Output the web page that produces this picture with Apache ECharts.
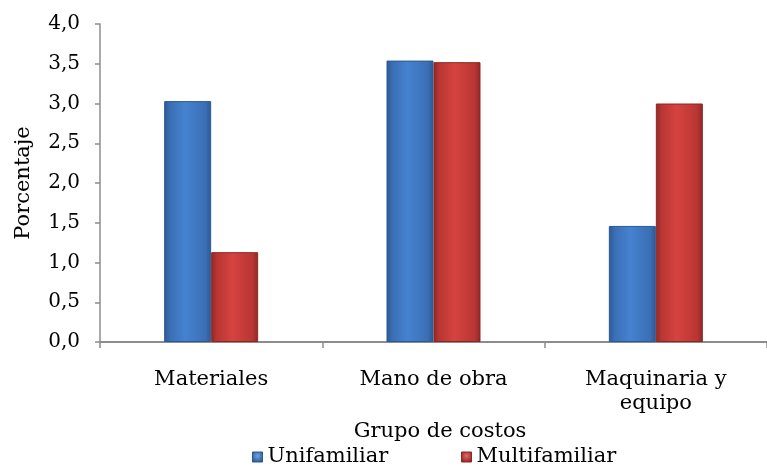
<!DOCTYPE html>
<html>
<head>
<meta charset="utf-8">
<script src="https://cdn.jsdelivr.net/npm/echarts@6/dist/echarts.min.js"></script>
<style>html,body{margin:0;padding:0;background:#fff;}#c{width:767px;height:466px;}</style>
</head>
<body>
<div id="c"></div>
<script>
var categories = ['Materiales', 'Mano de obra', 'Maquinaria y\nequipo'];
var unifamiliar = [3.03, 3.54, 1.46];
var multifamiliar = [1.13, 3.52, 3.00];
var seriesNames = ['Unifamiliar', 'Multifamiliar'];
var yAxisTitle = 'Porcentaje';
var xAxisTitle = 'Grupo de costos';

var FONT = 'DejaVu Serif';
function grad(edge, mid, center) {
  return new echarts.graphic.LinearGradient(0, 0, 1, 0, [
    {offset: 0, color: edge},
    {offset: 0.12, color: mid},
    {offset: 0.45, color: center},
    {offset: 0.88, color: mid},
    {offset: 1, color: edge}
  ]);
}
var blueFill = grad('#2c5890', '#3a6fb5', '#4682d0');
var redFill = grad('#8e2826', '#b83633', '#d6433f');
function iconFill(edge, center) {
  return new echarts.graphic.RadialGradient(0.5, 0.4, 0.6, [
    {offset: 0, color: center},
    {offset: 1, color: edge}
  ]);
}

function legendItem(x, name, fill, border) {
  return {
    type: 'group',
    left: x,
    top: 446,
    children: [
      {type: 'rect', shape: {x: 0, y: 6, width: 10, height: 10}, style: {fill: fill, stroke: border, lineWidth: 1}},
      {type: 'text', x: 15, y: 0, style: {text: name, font: '21px "DejaVu Serif"', fill: '#000', verticalAlign: 'top', align: 'left'}}
    ]
  };
}

var chart = echarts.init(document.getElementById('c'), null, {renderer: 'canvas'});
chart.setOption({
  animation: false,
  backgroundColor: '#ffffff',
  textStyle: {fontFamily: FONT, fontSize: 21, color: '#000'},
  grid: {left: 100, right: 0, top: 24, bottom: 124, containLabel: false},
  legend: {show: false},
  graphic: [
    legendItem(252, seriesNames[0], iconFill('#2b5a93', '#6fa3e6'), '#2b5a93'),
    legendItem(461, seriesNames[1], iconFill('#8c2624', '#e46a66'), '#8c2624')
  ],
  xAxis: {
    type: 'category',
    data: categories,
    name: xAxisTitle,
    nameLocation: 'middle',
    nameGap: 65,
    nameTextStyle: {fontFamily: FONT, fontSize: 21, color: '#000', padding: [0, 0, 0, 13]},
    axisLine: {lineStyle: {color: '#8c8c8c', width: 2}},
    axisTick: {show: true, length: 6, lineStyle: {color: '#8c8c8c', width: 1.5}},
    axisLabel: {fontFamily: FONT, fontSize: 21, color: '#000', margin: 26, lineHeight: 24, interval: 0},
    splitLine: {show: false}
  },
  yAxis: {
    type: 'value',
    min: 0,
    max: 4,
    interval: 0.5,
    name: yAxisTitle,
    nameLocation: 'middle',
    nameGap: 66,
    nameTextStyle: {fontFamily: FONT, fontSize: 21, color: '#000'},
    axisLine: {show: true, lineStyle: {color: '#8c8c8c', width: 1.5}},
    axisTick: {show: true, length: 5, lineStyle: {color: '#8c8c8c', width: 1.5}},
    axisLabel: {
      fontFamily: FONT, fontSize: 20, color: '#000', margin: 20,
      formatter: function (v) { return v.toFixed(1).replace('.', ','); }
    },
    splitLine: {show: false}
  },
  series: [
    {
      name: seriesNames[0],
      type: 'bar',
      data: unifamiliar,
      barWidth: 47,
      barGap: '0%',
      itemStyle: {color: blueFill, borderColor: '#2b5a93', borderWidth: 1}
    },
    {
      name: seriesNames[1],
      type: 'bar',
      data: multifamiliar,
      barWidth: 47,
      barGap: '0%',
      itemStyle: {color: redFill, borderColor: '#8c2624', borderWidth: 1}
    }
  ]
});
</script>
</body>
</html>
